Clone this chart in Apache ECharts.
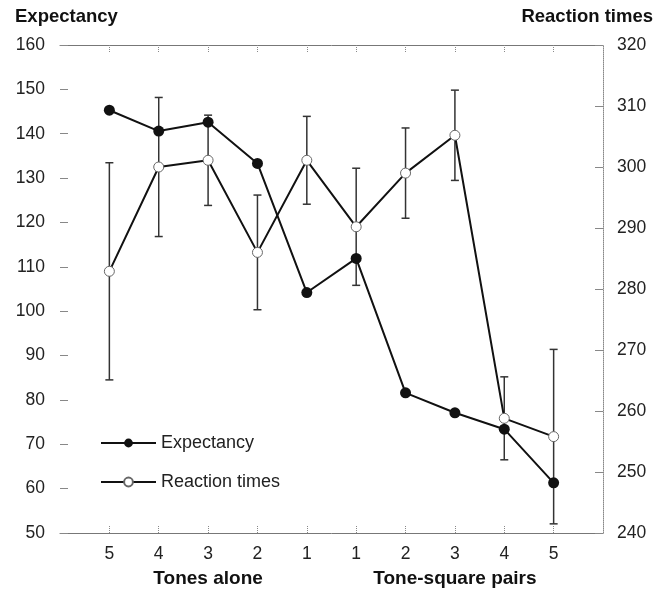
<!DOCTYPE html>
<html>
<head>
<meta charset="utf-8">
<script src="https://cdn.jsdelivr.net/npm/echarts@6/dist/echarts.min.js"></script>
<style>
html, body { margin: 0; padding: 0; background: #fff; }
#main { width: 668px; height: 592px; }
</style>
</head>
<body>
<div id="main"></div>
<script>
// tick labels along the x axis (tones alone, then tone-square pairs)
var tickLabels = ['5', '4', '3', '2', '1', '1', '2', '3', '4', '5'];
var groupNames = ['Tones alone', 'Tone-square pairs'];
var groupCenters = [3, 8]; // category index the group name sits under

var expectancy = [145.3, 140.6, 142.6, 133.3, 104.2, 111.9, 81.6, 77.1, 73.4, 61.3];
var reactionTimes = [282.9, 300.0, 301.1, 286.0, 301.1, 290.2, 299.0, 305.2, 258.8, 255.8];
var reactionErr = [17.8, 11.4, 7.4, 9.4, 7.2, 9.6, 7.4, 7.4, 6.8, 14.3];

var FONT = 'Liberation Sans, Arial, Helvetica, sans-serif';

// pad one empty slot on each side so the points sit inside the frame
var categories = [''].concat(tickLabels, ['']);
var expData = ['-'].concat(expectancy, ['-']);
var rtData = ['-'].concat(reactionTimes, ['-']);
var errData = [];
for (var i = 0; i < reactionTimes.length; i++) {
	errData.push([i + 1, reactionTimes[i] - reactionErr[i], reactionTimes[i] + reactionErr[i]]);
}

var chart = echarts.init(document.getElementById('main'));

var tickInterval = function(index) {
	return index > 0 && index < categories.length - 1;
};

var option = {
	animation: false,
	textStyle: { fontFamily: FONT },
	title: [{
		text: 'Expectancy',
		left: 10, top: 2,
		textStyle: { fontFamily: FONT, fontSize: 18.5, fontWeight: 'bold', color: '#111' }
	}, {
		text: 'Reaction times',
		right: 10, top: 2,
		textStyle: { fontFamily: FONT, fontSize: 18.5, fontWeight: 'bold', color: '#111' }
	}],
	legend: {
		orient: 'vertical',
		left: 95, top: 429,
		itemWidth: 55, itemHeight: 11,
		itemGap: 21,
		data: ['Expectancy', 'Reaction times'],
		textStyle: { fontFamily: FONT, fontSize: 18, color: '#222' }
	},
	grid: { left: 60, right: 65, top: 45, bottom: 59 },
	xAxis: [{
		type: 'category',
		data: categories,
		boundaryGap: false,
		axisLine: { lineStyle: { color: '#777', width: 1 } },
		axisTick: { inside: true, length: 7, interval: tickInterval, lineStyle: { color: '#888', type: 'dotted' } },
		axisLabel: { interval: 0, margin: 12, fontSize: 17.5, color: '#222', fontFamily: FONT },
		splitLine: { show: false }
	}, {
		type: 'category',
		position: 'top',
		data: categories,
		boundaryGap: false,
		axisLine: { lineStyle: { color: '#777', width: 1 } },
		axisTick: { inside: true, length: 7, interval: tickInterval, lineStyle: { color: '#888', type: 'dotted' } },
		axisLabel: { show: false },
		splitLine: { show: false }
	}],
	yAxis: [{
		type: 'value',
		min: 50, max: 160, interval: 10,
		axisLine: { show: false },
		axisTick: { show: true, inside: true, length: 8, lineStyle: { color: '#888' } },
		axisLabel: { margin: 15, fontSize: 17.5, color: '#222', fontFamily: FONT },
		splitLine: { show: false }
	}, {
		type: 'value',
		min: 240, max: 320, interval: 10,
		position: 'right',
		axisLine: { show: true, lineStyle: { color: '#888', type: 'dotted' } },
		axisTick: { show: true, inside: true, length: 8, lineStyle: { color: '#888' } },
		axisLabel: { margin: 14, fontSize: 17.5, color: '#222', fontFamily: FONT },
		splitLine: { show: false }
	}],
	series: [{
		name: 'RT error',
		type: 'custom',
		xAxisIndex: 0,
		yAxisIndex: 1,
		z: 1,
		data: errData,
		renderItem: function(params, api) {
			var x = api.value(0);
			var top = api.coord([x, api.value(2)]);
			var bot = api.coord([x, api.value(1)]);
			var w = 4;
			var style = { stroke: '#333', lineWidth: 1.5 };
			return {
				type: 'group',
				children: [{
					type: 'line', shape: { x1: top[0], y1: top[1], x2: bot[0], y2: bot[1] }, style: style
				}, {
					type: 'line', shape: { x1: top[0] - w, y1: top[1], x2: top[0] + w, y2: top[1] }, style: style
				}, {
					type: 'line', shape: { x1: bot[0] - w, y1: bot[1], x2: bot[0] + w, y2: bot[1] }, style: style
				}]
			};
		}
	}, {
		name: 'Reaction times',
		type: 'line',
		xAxisIndex: 0,
		yAxisIndex: 1,
		z: 3,
		data: rtData,
		symbol: 'circle',
		symbolSize: 10,
		lineStyle: { color: '#111', width: 2 },
		itemStyle: { color: '#fff', borderColor: '#666', borderWidth: 1 }
	}, {
		name: 'Expectancy',
		type: 'line',
		xAxisIndex: 0,
		yAxisIndex: 0,
		z: 4,
		data: expData,
		symbol: 'circle',
		symbolSize: 11,
		lineStyle: { color: '#111', width: 2 },
		itemStyle: { color: '#111' }
	}]
};

option && chart.setOption(option);

// group names under the tick labels
var graphics = [];
for (var g = 0; g < groupNames.length; g++) {
	graphics.push({
		type: 'text',
		x: chart.convertToPixel({ xAxisIndex: 0 }, groupCenters[g]),
		y: 579,
		style: {
			text: groupNames[g],
			textAlign: 'center',
			textVerticalAlign: 'middle',
			font: 'bold 19px ' + FONT,
			fill: '#111'
		}
	});
}
chart.setOption({ graphic: graphics });
</script>
</body>
</html>
